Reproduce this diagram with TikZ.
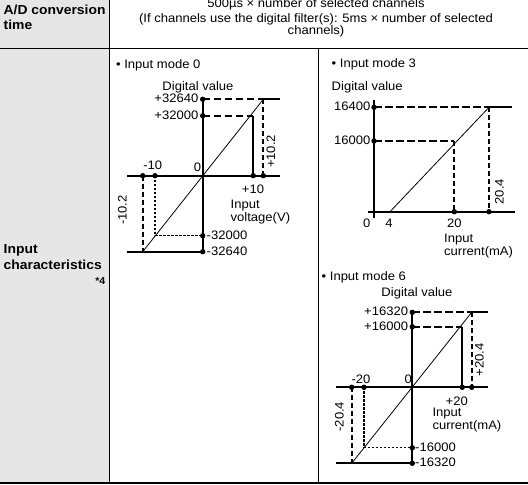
\documentclass[tikz,border=0pt]{standalone}
\usepackage{fontspec}
\setmainfont[FakeStretch=1.06]{Liberation Sans}
\begin{document}
\begin{tikzpicture}[x=1pt,y=-1pt,
  txt/.style={inner sep=0pt,font=\fontsize{12.3}{14}\selectfont,text height=0.72em,text depth=0pt},
  hdr/.style={inner sep=0pt,font=\fontsize{13.1}{15}\selectfont\bfseries,anchor=base west},
  tline/.style={line width=1.8pt},
  axis/.style={line width=2.1pt},
  hdash/.style={line width=1.8pt,dash pattern=on 7.5pt off 3.5pt},
  vdash/.style={line width=1.8pt,dash pattern=on 5pt off 3pt},
  dotln/.style={line width=1.5pt,dash pattern=on 2.6pt off 1.4pt},
  diag/.style={line width=0.8pt},
  ptdot/.style={circle,fill=black,draw=none,inner sep=0pt,minimum size=5.4pt}]
\useasboundingbox (0,0) rectangle (528,485);
\begin{scope}
\clip (0,0) rectangle (528,485);
% table
\fill[fill={rgb,255:red,230;green,230;blue,230}] (0,-2) rectangle (109.5,483);
\coordinate (hl) at (0,48.5); \coordinate (hr) at (528,48.5);
\coordinate (vt) at (109.5,-2); \coordinate (vb) at (109.5,483);
\coordinate (mt) at (318.3,48.5); \coordinate (mb) at (318.3,483);
\coordinate (bl) at (0,483); \coordinate (br) at (528,483);
\draw[line width=1.5pt] (hl) -- (hr);
\draw[tline] (vt) -- (vb);
\draw[line width=1.5pt] (mt) -- (mb);
\draw[line width=2pt] (bl) -- (br);
% header texts
\node[hdr] (h1) at (3.5,14) {A/D conversion};
\node[hdr] (h2) at (3.5,29.5) {time};
\node[hdr] (h3) at (3.5,253.5) {Input};
\node[hdr] (h4) at (3.5,269) {characteristics};
\node[inner sep=0pt,font=\fontsize{10}{11}\selectfont\bfseries,anchor=base east] (h5) at (105.5,284.5) {*4};
\node[txt] (t1) at (316,4) {500µs × number of selected channels};
\node[txt] (t2) at (316,18.7) {(If channels use the digital filter(s): 5ms × number of selected};
\node[txt] (t3) at (316,31) {channels)};
\end{scope}
% ---------------- Mode 0
\coordinate (a0t) at (202.7,99.3); \coordinate (a0b) at (202.7,251.7);
\coordinate (a0l) at (127.3,175.7); \coordinate (a0r) at (280,175.7);
\coordinate (p2) at (202.7,115.7);
\coordinate (q1) at (263.3,99.3); \coordinate (q1e) at (280,99.3);
\coordinate (q2) at (253.3,115.7);
\coordinate (x1) at (253.3,175.7); \coordinate (x2) at (263.3,175.7);
\coordinate (xl1) at (142.7,175.7); \coordinate (xl2) at (155,175.7);
\coordinate (bl1) at (142.7,251.7); \coordinate (bl2) at (155,235.7);
\coordinate (n2) at (202.7,235.7); \coordinate (bls) at (127.3,251.7);
\draw[axis] (a0t) -- (a0b);
\draw[axis] (a0l) -- (a0r);
\draw[axis] (q1) -- (q1e);
\draw[axis] (bls) -- (a0b);
\draw[axis] (q2) -- (x1);
\draw[hdash] (a0t) -- (q1);
\draw[hdash] (p2) -- (q2);
\draw[vdash] (q1) -- (x2);
\draw[vdash] (xl1) -- (bl1);
\draw[dotln] (xl2) -- (bl2) -- (n2);
\draw[diag] (bl1) -- (q1);
\foreach \p in {a0t,p2,n2,a0b,x1,x2,xl1,xl2} \node[ptdot] at (\p) {};
\node[txt,anchor=west] (m0) at (116,65) {• Input mode 0};
\node[txt] (dv0) at (198,86.5) {Digital value};
\node[txt,anchor=east] (l1) at (198.5,99.3) {+32640};
\node[txt,anchor=east] (l2) at (198.5,115.7) {+32000};
\node[txt] (l3) at (152.7,166) {-10};
\node[txt] (l4) at (197.5,168) {0};
\node[txt] (l5) at (253,190) {+10};
\node[txt,anchor=west] (l6) at (230.5,205) {Input};
\node[txt,anchor=west] (l7) at (230.5,218) {voltage(V)};
\node[txt,anchor=west] (l8) at (206.5,235.7) {-32000};
\node[txt,anchor=west] (l9) at (206.5,251.7) {-32640};
\node[txt,rotate=90] (l10) at (123,210) {-10.2};
\node[txt,rotate=90] (l11) at (271.5,151.5) {+10.2};
% ---------------- Mode 3
\coordinate (b3t) at (374,100); \coordinate (b3b) at (374,218.3);
\coordinate (b3l) at (368.3,211.7); \coordinate (b3r) at (515,211.7);
\coordinate (r1) at (374,107.3); \coordinate (r2) at (374,141);
\coordinate (c1) at (489,107.3); \coordinate (c1e) at (511.7,107.3);
\coordinate (c2) at (454.3,141);
\coordinate (y1) at (454.3,211.7); \coordinate (y2) at (489,211.7);
\coordinate (s3) at (390,211.7);
\draw[axis] (b3t) -- (b3b);
\draw[axis] (b3l) -- (b3r);
\draw[axis] (c1) -- (c1e);
\draw[hdash] (r1) -- (c1);
\draw[hdash] (r2) -- (c2);
\draw[vdash] (c2) -- (y1);
\draw[vdash] (c1) -- (y2);
\draw[diag] (s3) -- (c1);
\foreach \p in {r1,r2,y1,y2} \node[ptdot] at (\p) {};
\node[txt,anchor=west] (m3) at (331.5,64.3) {• Input mode 3};
\node[txt,anchor=west] (dv3) at (331.5,87.3) {Digital value};
\node[txt,anchor=east] (k1) at (370.5,107.3) {16400};
\node[txt,anchor=east] (k2) at (370.5,141) {16000};
\node[txt] (k3) at (366.7,223.5) {0};
\node[txt] (k4) at (389,223.5) {4};
\node[txt] (k5) at (454.3,223.5) {20};
\node[txt,anchor=west] (k6) at (444,239) {Input};
\node[txt,anchor=west] (k7) at (444,251.7) {current(mA)};
\node[txt,rotate=90] (k8) at (500,191.7) {20.4};
% ---------------- Mode 6
\coordinate (e6t) at (412.3,312.3); \coordinate (e6b) at (412.3,463.3);
\coordinate (e6l) at (335.7,387.3); \coordinate (e6r) at (487.7,387.3);
\coordinate (m2) at (412.3,326.7);
\coordinate (d1) at (471.7,312.3); \coordinate (d1e) at (487.7,312.3);
\coordinate (d2) at (462.3,326.7);
\coordinate (z1) at (462.3,387.3); \coordinate (z2) at (471.7,387.3);
\coordinate (zl1) at (351.7,387.3); \coordinate (zl2) at (364,387.3);
\coordinate (f1) at (351.7,463.3); \coordinate (f2) at (364,447.7);
\coordinate (g2) at (412.3,447.7); \coordinate (fls) at (335.7,463.3);
\draw[axis] (e6t) -- (e6b);
\draw[axis] (e6l) -- (e6r);
\draw[axis] (d1) -- (d1e);
\draw[axis] (fls) -- (e6b);
\draw[axis] (d2) -- (z1);
\draw[hdash] (e6t) -- (d1);
\draw[hdash] (m2) -- (d2);
\draw[vdash] (d1) -- (z2);
\draw[vdash] (zl1) -- (f1);
\draw[dotln] (zl2) -- (f2) -- (g2);
\draw[diag] (f1) -- (d1);
\foreach \p in {e6t,m2,g2,e6b,z1,z2,zl1,zl2} \node[ptdot] at (\p) {};
\node[txt,anchor=west] (m6) at (321.5,276.7) {• Input mode 6};
\node[txt] (dv6) at (417,293.3) {Digital value};
\node[txt,anchor=east] (j1) at (408.3,312.3) {+16320};
\node[txt,anchor=east] (j2) at (408.3,326.7) {+16000};
\node[txt] (j3) at (361,380) {-20};
\node[txt] (j4) at (408.3,380) {0};
\node[txt] (j5) at (456.7,401.7) {+20};
\node[txt,anchor=west] (j6) at (432.3,413.3) {Input};
\node[txt,anchor=west] (j7) at (432.3,425.7) {current(mA)};
\node[txt,anchor=west] (j8) at (415,447.7) {-16000};
\node[txt,anchor=west] (j9) at (415,463.3) {-16320};
\node[txt,rotate=90] (j10) at (340,416.7) {-20.4};
\node[txt,rotate=90] (j11) at (480,360) {+20.4};
\end{tikzpicture}
\end{document}
